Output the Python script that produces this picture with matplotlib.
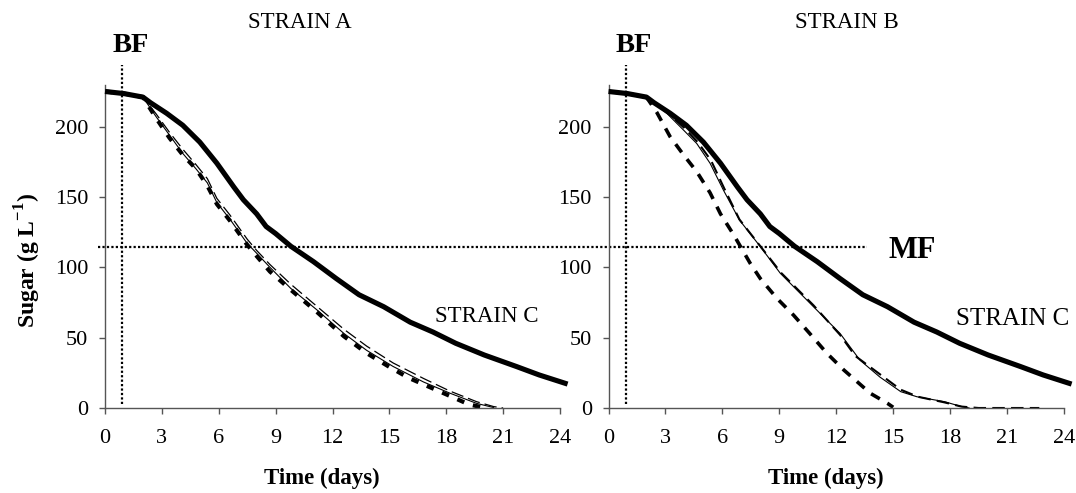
import matplotlib.pyplot as plt

plt.rcParams['font.family'] = ['Liberation Serif', 'DejaVu Serif']
plt.rcParams['mathtext.fontset'] = 'custom'
plt.rcParams['mathtext.rm'] = 'Liberation Serif'
plt.rcParams['mathtext.bf'] = 'Liberation Serif:bold'

# strain C reference curve (same in both panels)
days_c = [0, 1, 2, 2.4, 3.25, 4.1, 5.0, 5.9, 6.8, 7.3, 8.0, 8.5, 9.0, 9.8, 11.0,
          12.2, 13.4, 14.7, 16.1, 17.3, 18.5, 20.0, 21.7, 22.9, 24.4]
sugar_c = [225, 223.5, 221, 217, 209.5, 201, 189, 174, 157, 148, 138, 129, 124, 115, 104,
           92, 80.5, 72, 61, 54, 46, 37.7, 29.5, 23.5, 17]

# strain A
days_a1 = [0, 1, 2.0, 2.7, 3.4, 4.1, 4.8, 5.4, 5.9, 6.6, 7.5, 8.0, 8.7, 9.8, 11.2,
           12.6, 13.8, 15.2, 16.8, 18.2, 19.6, 20.5]
sugar_a1 = [225, 223.5, 221, 207, 194, 181, 170, 160, 146, 134, 117, 110, 100, 85, 69.5,
            53, 41, 29.5, 18.5, 10.5, 3.3, 0.3]
days_a2 = [0, 1, 2.0, 2.7, 3.4, 4.1, 4.8, 5.4, 5.9, 6.6, 7.5, 8.0, 8.7, 9.8, 11.2,
           12.6, 13.8, 15.2, 16.8, 18.2, 19.6, 20.5, 21.0]
sugar_a2 = [225, 223.5, 221, 209, 196, 184, 173, 163, 149, 137, 120, 112, 102, 88, 72,
            56, 44, 32, 21, 12, 4.5, 1, 0]
days_a3 = [0, 1, 2.0, 2.7, 3.4, 4.1, 4.8, 5.4, 5.9, 6.6, 7.5, 8.0, 8.7, 9.8, 11.2,
           12.6, 13.8, 14.9, 16.0, 17.1, 18.2, 19.2, 19.9]
sugar_a3 = [225, 223.5, 221, 206, 192, 180, 170, 158, 145, 133, 116, 108, 97, 84, 68,
            51, 39, 30, 21.5, 15, 8.5, 2.5, 0.5]

# strain B
days_b1 = [0, 1, 2, 3.07, 3.95, 4.65, 5.35, 6.05, 6.9, 8.0, 9.05, 10.8, 12.2, 13.25,
           14.3, 15.4, 16.25, 17.7, 18.5, 19.0]
sugar_b1 = [225, 223.5, 221, 209.5, 197.6, 188, 174, 155, 133.6, 114.7, 95.8, 72, 53, 34,
            22, 11.6, 8, 4.5, 1.4, 0]
days_b2 = [0, 1, 2, 3.1, 4.0, 4.7, 5.4, 6.1, 6.9, 8.0, 9.1, 10.8, 12.2, 13.0, 13.5,
           14.3, 15.4, 16.3, 17.7, 18.6, 19.5, 22.7]
sugar_b2 = [225, 223.5, 221, 210, 199, 189, 176, 156, 134, 115, 96, 73, 52, 37, 32,
            24, 13, 8, 4, 1, 0, 0]
days_b3 = [0, 1, 2.0, 2.55, 3.24, 3.95, 4.65, 5.35, 5.9, 6.6, 7.46, 8.0, 8.87, 9.75,
           10.6, 11.5, 12.4, 13.1, 13.8, 14.7, 15.0]
sugar_b3 = [225, 223.5, 221, 210, 193, 180, 168, 153, 138, 123, 103, 92, 78, 66,
            53, 39, 27, 18.7, 10.4, 3.3, 0.5]

x_ticks = [0, 3, 6, 9, 12, 15, 18, 21, 24]
y_ticks = [0, 50, 100, 150, 200]
bf_day = 0.9
mf_sugar = 114.5

W, H = 1076, 493
fig = plt.figure(figsize=(W / 100, H / 100), dpi=100)
ax1 = fig.add_axes([105 / W, 85 / H, 455 / W, 323 / H])
ax2 = fig.add_axes([608.5 / W, 85 / H, 455.5 / W, 323 / H])

dotted = (0, (1, 1))
for ax in (ax1, ax2):
    ax.set_xlim(0, 24)
    ax.set_ylim(0, 229.6)
    ax.set_xticks(x_ticks)
    ax.set_yticks(y_ticks)
    for s in ('top', 'right'):
        ax.spines[s].set_visible(False)
    for s in ('left', 'bottom'):
        ax.spines[s].set_color('#555555')
        ax.spines[s].set_linewidth(1.0)
    ax.tick_params(axis='both', direction='out', length=4, width=1, color='#555555',
                   labelsize=16)
    ax.tick_params(axis='x', pad=11)
    ax.tick_params(axis='y', pad=8)
    ax.plot([bf_day, bf_day], [3, 244], color='black', lw=1.6, ls=dotted, clip_on=False)
    ax.plot(days_c, sugar_c, color='black', lw=3.7, clip_on=False, zorder=3,
            solid_capstyle='butt')

# strain A panel
ax1.plot(days_a2, sugar_a2, color='black', lw=0.9, dashes=(10, 4))
ax1.plot(days_a1, sugar_a1, color='black', lw=0.8)
ax1.plot(days_a3, sugar_a3, color='black', lw=3.0, dashes=(1.8, 2.2))

# strain B panel
ax2.plot(days_b2, sugar_b2, color='black', lw=1.5, dashes=(6, 3))
ax2.plot(days_b1, sugar_b1, color='black', lw=0.8)
ax2.plot(days_b3, sugar_b3, color='black', lw=2.6, dashes=(2.8, 2.4))

# MF line running across both panels
ax2.plot([-26.9, 13.6], [mf_sugar, mf_sugar], color='black', lw=1.6, ls=dotted,
         clip_on=False)

fig.text(300 / W, 1 - 23 / H, 'STRAIN A', fontsize=16.5, ha='center', va='center')
fig.text(847 / W, 1 - 23 / H, 'STRAIN B', fontsize=16.5, ha='center', va='center')
fig.text(131 / W, 1 - 45 / H, 'BF', fontsize=20.5, fontweight='bold', ha='center', va='center')
fig.text(634 / W, 1 - 46 / H, 'BF', fontsize=20.5, fontweight='bold', ha='center', va='center')
fig.text(912 / W, 1 - 251 / H, 'MF', fontsize=22, fontweight='bold', ha='center', va='center')
fig.text(435 / W, 1 - 316 / H, 'STRAIN C', fontsize=16.5, ha='left', va='center')
fig.text(956 / W, 1 - 319 / H, 'STRAIN C', fontsize=18, ha='left', va='center')

fig.text(322 / W, 1 - 478 / H, 'Time (days)', fontsize=16.5, fontweight='bold',
         ha='center', va='center')
fig.text(826 / W, 1 - 478 / H, 'Time (days)', fontsize=16.5, fontweight='bold',
         ha='center', va='center')
fig.text(28 / W, 1 - 260 / H, r'Sugar (g L$^{\mathbf{-1}}$)', fontsize=17,
         fontweight='bold', rotation=90, ha='center', va='center')

plt.savefig('out.png', dpi=100)
